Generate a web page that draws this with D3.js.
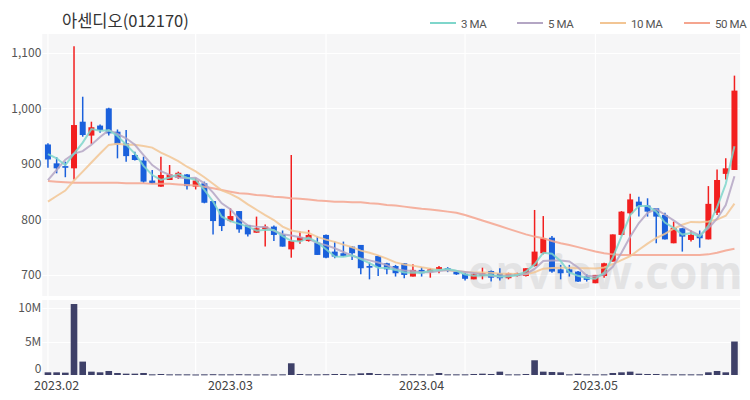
<!DOCTYPE html>
<html><head><meta charset="utf-8">
<script src="https://cdn.jsdelivr.net/npm/d3@7"></script>
<style>
html,body{margin:0;padding:0;background:#fff;}
svg{display:block;font-family:"Noto Sans CJK KR","Noto Sans",sans-serif;}
</style></head><body>
<svg id="c" width="750" height="400"></svg>
<script>
const title = "아센디오(012170)";
const dates = ["2023-01-31",
"2023-02-01","2023-02-02","2023-02-03","2023-02-06","2023-02-07","2023-02-08","2023-02-09","2023-02-10","2023-02-13","2023-02-14","2023-02-15","2023-02-16","2023-02-17","2023-02-20","2023-02-21","2023-02-22","2023-02-23","2023-02-24","2023-02-27","2023-02-28",
"2023-03-02","2023-03-03","2023-03-06","2023-03-07","2023-03-08","2023-03-09","2023-03-10","2023-03-13","2023-03-14","2023-03-15","2023-03-16","2023-03-17","2023-03-20","2023-03-21","2023-03-22","2023-03-23","2023-03-24","2023-03-27","2023-03-28","2023-03-29","2023-03-30","2023-03-31",
"2023-04-03","2023-04-04","2023-04-05","2023-04-06","2023-04-07","2023-04-10","2023-04-11","2023-04-12","2023-04-13","2023-04-14","2023-04-17","2023-04-18","2023-04-19","2023-04-20","2023-04-21","2023-04-24","2023-04-25","2023-04-26","2023-04-27","2023-04-28",
"2023-05-02","2023-05-03","2023-05-04","2023-05-08","2023-05-09","2023-05-10","2023-05-11","2023-05-12","2023-05-15","2023-05-16","2023-05-17","2023-05-18","2023-05-19","2023-05-22","2023-05-23","2023-05-24","2023-05-25"];
const open  = [935,901,896,892,976,951,969,1000,958,937,916,906,870,859,871,875,881,859,865,833,819,797,815,790,776,782,787,773,746,761,761,758,772,742,739,751,754,716,734,721,716,721,697,709,705,709,712,706,702,692,698,707,703,694,698,698,716,739,767,710,710,706,697,685,698,724,772,811,832,825,820,808,757,784,763,773,764,812,882,889];
const high  = [937,912,904,1112,1021,976,971,1001,962,961,922,913,889,913,898,886,882,874,868,833,819,820,815,790,805,791,789,780,916,778,781,769,773,760,760,752,754,722,735,722,718,721,719,714,712,716,714,708,703,703,713,708,712,704,704,712,817,806,770,718,718,707,701,700,722,773,815,846,841,838,820,812,796,784,780,780,860,890,910,1059];
const low   = [893,883,876,872,949,936,956,951,910,904,906,866,864,859,871,873,854,854,829,773,779,795,776,769,776,751,761,751,731,756,760,736,730,730,733,727,701,692,698,701,697,694,697,697,695,703,705,700,690,692,692,688,690,692,697,697,715,737,704,692,697,687,688,685,695,724,771,734,805,805,757,764,757,742,760,749,764,808,872,889];
const close = [908,892,893,970,952,966,961,955,935,914,907,868,865,880,881,884,860,870,830,797,788,806,782,773,784,787,772,751,761,768,772,736,731,733,734,739,712,713,714,710,703,700,709,703,710,714,708,701,693,701,703,695,694,703,703,712,742,766,706,703,704,688,691,700,721,773,814,836,823,814,805,764,785,769,772,766,828,871,892,1032];
// closes of the trading days just before the first visible candle
const priorCloses = [790,795,790,792,800,800,800,915,930];
const volumeM = [0.4,0.4,0.35,10.6,2.0,0.5,0.4,0.6,0.3,0.2,0.2,0.3,0.1,0.15,0.1,0.1,0.1,0.08,0.1,0.12,0.1,0.1,0.12,0.1,0.08,0.1,0.08,0.1,1.75,0.15,0.1,0.1,0.12,0.15,0.15,0.1,0.25,0.3,0.15,0.12,0.1,0.1,0.12,0.1,0.08,0.3,0.1,0.1,0.1,0.15,0.2,0.15,0.5,0.1,0.1,0.15,2.2,0.5,0.45,0.4,0.1,0.2,0.1,0.1,0.1,0.3,0.4,0.5,0.2,0.15,0.15,0.1,0.1,0.1,0.1,0.1,0.4,0.6,0.4,5.0];
const ma50 = [869,868,867,866,866,866,866,866,866,865,865,865,864,864,864,863,862,861,859,856,853,850,847,846,844,843,841,840,838,837,836,834,833,832,832,831,831,829,828,826,825,823,821,819,818,816,814,812,808,803,798,793,788,783,778,773,769,766,761,757,754,750,746,742,739,737,736,736,736,736,736,736,736,736,736,736,737,740,744,747];
const maNames = ["3 MA","5 MA","10 MA","50 MA"];
const maColors = ["#7fd6cb","#b4a6c4","#f2c594","#f5a58f"];
const priceTicks = [700,800,900,1000,1100];
const volTicks = [0,5,10];
const volTickLabels = ["0","5M","10M"];
const xTickDates = ["2023-02-01","2023-03-02","2023-04-03","2023-05-02"];
const xTickLabels = ["2023.02","2023.03","2023.04","2023.05"];
const gridDates = ["2023-01-31","2023-02-23","2023-03-17","2023-04-10","2023-05-02"];

const svg = d3.select("#c");
const L = 42.3, R = 740.1;
const P = {top:34, bottom:296};
const V = {top:300, bottom:375};

const x = d3.scaleBand().domain(dates).range([L, R]).padding(0.3);
const cx = d => x(d) + x.bandwidth()/2;
const y = d3.scaleLinear().domain([662, 1134]).range([P.bottom, P.top]);
const yv = d3.scaleLinear().domain([0, 11.2]).range([V.bottom, V.top]);

function movingAvg(n){
  const all = priorCloses.concat(close);
  const off = priorCloses.length;
  return close.map((c,i)=>d3.mean(all.slice(off+i-n+1, off+i+1)));
}
const maSeries = [movingAvg(3), movingAvg(5), movingAvg(10), ma50];

// panels
const bg = "#f6f6f7";
svg.append("rect").attr("x",L).attr("y",P.top).attr("width",R-L).attr("height",P.bottom-P.top).attr("fill",bg);
svg.append("rect").attr("x",L).attr("y",V.top).attr("width",R-L).attr("height",V.bottom-V.top).attr("fill",bg);

// grid
const g = svg.append("g").attr("stroke","#ffffff").attr("stroke-width",1.2);
priceTicks.forEach(t=>g.append("line").attr("x1",L).attr("x2",R).attr("y1",Math.round(y(t))+0.5).attr("y2",Math.round(y(t))+0.5));
volTicks.slice(1).forEach(t=>g.append("line").attr("x1",L).attr("x2",R).attr("y1",Math.round(yv(t))+0.5).attr("y2",Math.round(yv(t))+0.5));
gridDates.forEach(d=>{
  g.append("line").attr("x1",cx(d)).attr("x2",cx(d)).attr("y1",P.top).attr("y2",P.bottom);
  g.append("line").attr("x1",cx(d)).attr("x2",cx(d)).attr("y1",V.top).attr("y2",V.bottom);
});

// watermark
svg.append("text").attr("x",468).attr("y",289).attr("font-size",46).attr("font-weight","bold")
  .attr("font-family","'Open Sans',sans-serif").attr("fill","#000").attr("opacity",0.07).text("enview.com");

// candles
const up = "#f21f1f", down = "#1a60dc";
const cg = svg.append("g");
dates.forEach((d,i)=>{
  const col = close[i] >= open[i] ? up : down;
  cg.append("line").attr("x1",cx(d)).attr("x2",cx(d)).attr("y1",y(high[i])).attr("y2",y(low[i]))
    .attr("stroke",col).attr("stroke-width",1.5);
  const top = y(Math.max(open[i],close[i])), bot = y(Math.min(open[i],close[i]));
  cg.append("rect").attr("x",cx(d)-3).attr("width",6).attr("y",top).attr("height",Math.max(1.5,bot-top)).attr("fill",col);
});

// moving averages
const line = d3.line().x((v,i)=>cx(dates[i])).y(v=>y(v));
[3,2,1,0].forEach(k=>{
  svg.append("path").attr("d",line(maSeries[k])).attr("fill","none")
    .attr("stroke",maColors[k]).attr("stroke-width",2).attr("opacity",0.85);
});

// volume
svg.append("g").selectAll("rect").data(dates).join("rect")
  .attr("x",d=>cx(d)-3.3).attr("width",6.6)
  .attr("y",(d,i)=>yv(volumeM[i])).attr("height",(d,i)=>Math.max(1,V.bottom-yv(volumeM[i])))
  .attr("fill","#3e4068");

// axes
const axisStyle = sel => { sel.select(".domain").remove(); sel.selectAll(".tick line").remove();
  sel.selectAll("text").attr("fill","#555").attr("font-size",12).attr("font-family","'Noto Sans CJK KR','Noto Sans',sans-serif"); };
svg.append("g").attr("transform",`translate(${L},0)`)
  .call(d3.axisLeft(y).tickValues(priceTicks).tickFormat(d3.format(",")).tickSize(0).tickPadding(1)).call(axisStyle);
const va = svg.append("g").attr("transform",`translate(${L},0)`)
  .call(d3.axisLeft(yv).tickValues(volTicks).tickFormat((d,i)=>volTickLabels[i]).tickSize(0).tickPadding(1)).call(axisStyle);
va.selectAll("text").filter(d=>d===0).attr("dy","-0.2em");
const xa = svg.append("g").attr("transform",`translate(0,${V.bottom})`)
  .call(d3.axisBottom(x).tickValues(xTickDates).tickFormat((d,i)=>xTickLabels[i]).tickSize(0).tickPadding(6)).call(axisStyle);
xa.selectAll("text").attr("fill","#444").attr("font-size",12.5);

// title
svg.append("text").attr("x",62).attr("y",27).attr("font-size",16.5).attr("fill","#333").text(title);

// legend
const legX = [430,517,600,684];
maNames.forEach((n,k)=>{
  svg.append("line").attr("x1",legX[k]).attr("x2",legX[k]+26).attr("y1",23).attr("y2",23)
    .attr("stroke",maColors[k]).attr("stroke-width",2);
  svg.append("text").attr("x",legX[k]+31).attr("y",27.5).attr("font-size",11.5)
    .attr("font-family","Roboto,'Noto Sans',sans-serif").attr("letter-spacing","-0.4")
    .attr("fill","#555").text(n);
});
</script>
</body></html>
